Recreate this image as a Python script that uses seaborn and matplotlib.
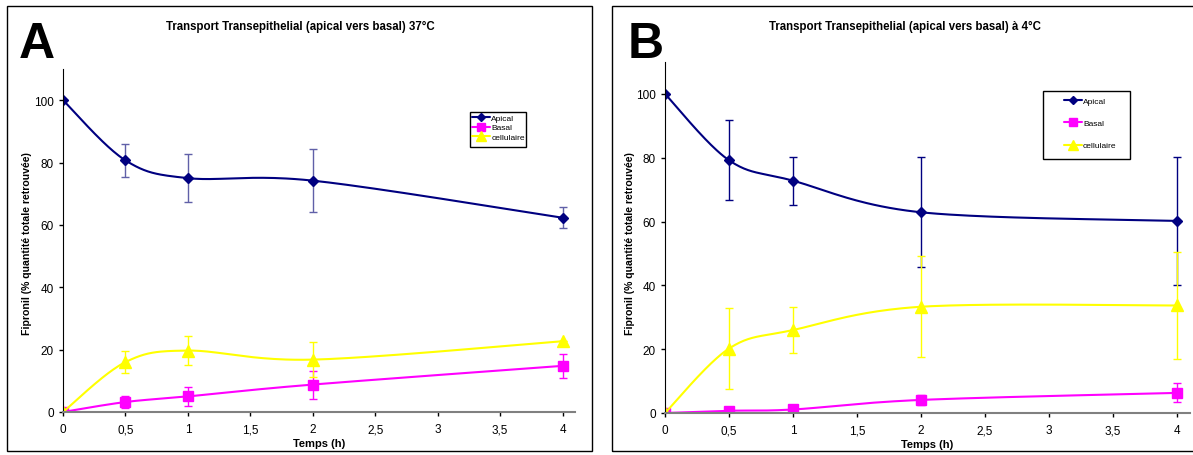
import numpy as np
import matplotlib.pyplot as plt
import seaborn as sns
from matplotlib.patches import Rectangle

sns.set_style("white")
plt.rcParams["font.family"] = ["Liberation Sans", "DejaVu Sans"]
plt.rcParams["text.color"] = "black"
plt.rcParams["axes.labelcolor"] = "black"

# data
temps = [0, 0.5, 1, 2, 4]

apical_37 = [100, 80.7, 75.0, 74.2, 62.3]
apical_37_err = [0, 5.3, 7.6, 10.0, 3.3]
basal_37 = [0, 3.2, 5.0, 8.8, 14.8]
basal_37_err = [0, 2.0, 3.0, 4.5, 3.9]
cell_37 = [0, 16.0, 19.7, 16.8, 22.7]
cell_37_err = [0, 3.5, 4.6, 5.6, 0]

apical_4 = [100, 79.2, 72.8, 62.9, 60.2]
apical_4_err = [0, 12.5, 7.5, 17.3, 20.0]
basal_4 = [0, 0.7, 1.1, 4.1, 6.3]
basal_4_err = [0, 0.5, 0.5, 1.5, 3.0]
cell_4 = [0, 20.2, 26.0, 33.3, 33.7]
cell_4_err = [0, 12.8, 7.2, 15.8, 16.9]

series_names = ["Apical", "Basal", "cellulaire"]
colors = ["#000080", "#FF00FF", "#FFFF00"]
markers = ["D", "s", "^"]
marker_sizes = [5, 7, 8]

xtick_vals = [0, 0.5, 1, 1.5, 2, 2.5, 3, 3.5, 4]
xtick_labels = ["0", "0,5", "1", "1,5", "2", "2,5", "3", "3,5", "4"]
ytick_vals = [0, 20, 40, 60, 80, 100]

W, H = 1193, 456


def smooth(x, y, n=40):
    # Excel-like smoothed line (Bezier through the points)
    pts = np.column_stack([x, y]).astype(float)
    P = np.vstack([pts[0], pts, pts[-1]])
    t = np.linspace(0, 1, n)[:, None]
    parts = []
    for i in range(1, len(P) - 2):
        p0, p1, p2, p3 = P[i - 1], P[i], P[i + 1], P[i + 2]
        c1 = p1 + (p2 - p0) / 6
        c2 = p2 - (p3 - p1) / 6
        parts.append((1 - t) ** 3 * p1 + 3 * (1 - t) ** 2 * t * c1
                     + 3 * (1 - t) * t ** 2 * c2 + t ** 3 * p2)
    return np.vstack(parts)


def frame(x0, y0, x1, y1, lw=1):
    # rectangle given in pixel coords (top-left origin)
    fig.patches.append(Rectangle((x0 / W, 1 - y1 / H), (x1 - x0) / W,
                                 (y1 - y0) / H, transform=fig.transFigure,
                                 fill=False, edgecolor="black", lw=lw,
                                 zorder=5))


fig = plt.figure(figsize=(11.93, 4.56), dpi=100)

frame(7, 7, 592, 452)
frame(612, 7, 1197, 452)

panels = [
    {
        "rect": [63 / W, 1 - 413 / H, 512 / W, 343 / H],
        "title": "Transport Transepithelial (apical vers basal) 37°C",
        "letter": "A", "letter_x": 19 / W, "title_x": 300 / W,
        "ylab_x": 27 / W,
        "data": [(apical_37, apical_37_err), (basal_37, basal_37_err),
                 (cell_37, cell_37_err)],
        "err_colors": ["#6060a8", "#FF00FF", "#FFFF00"],
        "legend_box": (470, 113, 526, 148),
        "legend_anchor": (470 / W, 1 - 113 / H),
        "legend_space": 0.2,
        "legend_pad": 0.25,
    },
    {
        "rect": [665 / W, 1 - 414 / H, 525 / W, 351 / H],
        "title": "Transport Transepithelial (apical vers basal) à 4°C",
        "letter": "B", "letter_x": 628 / W, "title_x": 905 / W,
        "ylab_x": 630 / W,
        "data": [(apical_4, apical_4_err), (basal_4, basal_4_err),
                 (cell_4, cell_4_err)],
        "err_colors": colors,
        "legend_box": (1043, 92, 1130, 160),
        "legend_anchor": (1058 / W, 1 - 92 / H),
        "legend_space": 1.75,
        "legend_pad": 0.7,
    },
]

for p in panels:
    ax = fig.add_axes(p["rect"])
    handles = []
    for (vals, errs), name, c, ec, m, ms in zip(p["data"], series_names,
                                                colors, p["err_colors"],
                                                markers, marker_sizes):
        curve = smooth(temps, vals)
        sns.lineplot(x=curve[:, 0], y=curve[:, 1], sort=False, estimator=None,
                     color=c, lw=1.5, ax=ax)
        ax.errorbar(temps, vals, yerr=errs, fmt="none", ecolor=ec,
                    elinewidth=1, capsize=3, capthick=1)
        ax.plot(temps, vals, linestyle="none", marker=m, markersize=ms,
                color=c, markeredgecolor=c)
        handles.append(plt.Line2D([], [], color=c, lw=1.5, marker=m,
                                  markersize=ms - 1, label=name))

    ax.set_xlim(0, 4.1)
    ax.set_ylim(0, 110)
    ax.set_xticks(xtick_vals)
    ax.set_xticklabels(xtick_labels)
    ax.set_yticks(ytick_vals)
    ax.tick_params(axis="both", labelsize=8.5, direction="out", length=3,
                   width=1, colors="black", left=True, bottom=True)
    ax.tick_params(axis="x", pad=5)
    sns.despine(ax=ax)
    ax.spines["left"].set_color("black")
    ax.spines["bottom"].set_color("#808080")
    ax.spines["bottom"].set_linewidth(1.5)
    ax.set_xlabel("Temps (h)", fontsize=8, fontweight="bold", labelpad=2)
    ax.set_ylabel("")

    fig.text(p["ylab_x"], 0.5 - 0.035, "Fipronil (% quantité totale retrouvée)",
             rotation=90, ha="center", va="center", fontsize=7.6,
             fontweight="bold")
    fig.text(p["title_x"], 1 - 27 / H, p["title"], ha="center", va="center",
             fontsize=8.3, fontweight="bold")
    fig.text(p["letter_x"], 1 - 45 / H, p["letter"], ha="left",
             va="center", fontsize=36, fontweight="bold")

    frame(*p["legend_box"])
    fig.legend(handles=handles, loc="upper left",
               bbox_to_anchor=p["legend_anchor"], fontsize=6,
               frameon=False, handlelength=2.2, handletextpad=0.1,
               borderpad=p["legend_pad"], borderaxespad=0,
               labelspacing=p["legend_space"])

fig.savefig("out.png", dpi=100)
